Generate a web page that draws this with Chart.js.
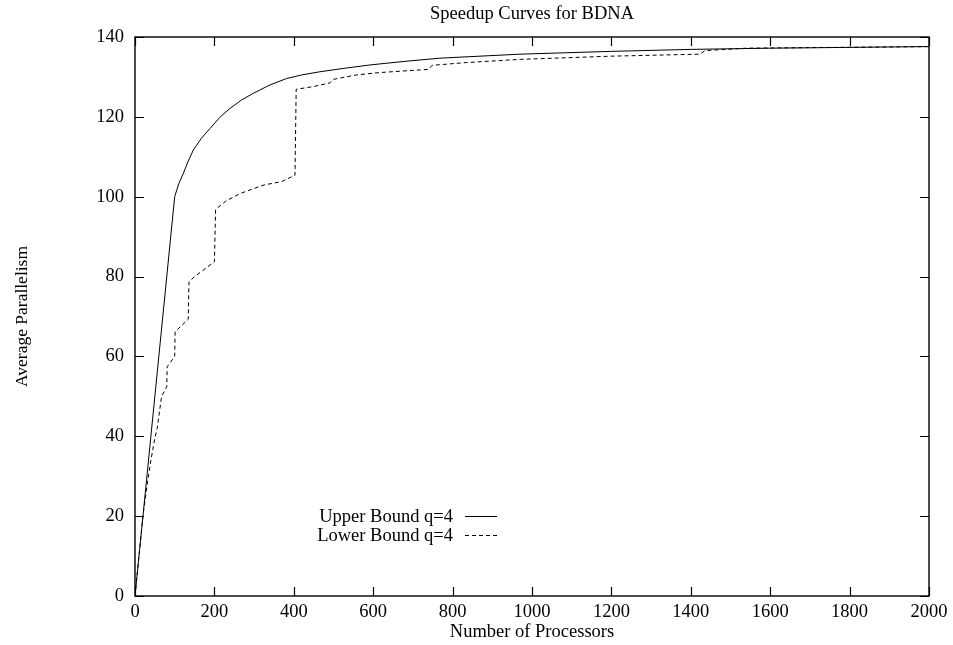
<!DOCTYPE html>
<html>
<head>
<meta charset="utf-8">
<title>Speedup Curves for BDNA</title>
<script src="https://cdn.jsdelivr.net/npm/chart.js@4/dist/chart.umd.min.js"></script>
<style>
  html, body { margin: 0; padding: 0; background: #fff; }
  #wrap { width: 953px; height: 645px; }
</style>
</head>
<body>
<div id="wrap"><canvas id="speedupChart" width="953" height="645"></canvas></div>
<script>
// upper bound speedup curve (processors, average parallelism)
const upperX = [0, 100, 110, 122, 134, 147, 167, 189, 213, 239, 268, 298, 340, 382, 420, 466, 530, 592, 680, 768, 970, 1200, 1400, 1600, 1800, 2000];
const upperY = [0, 100, 103.2, 105.9, 108.9, 111.7, 114.6, 117.1, 119.8, 122.1, 124.2, 125.9, 128.0, 129.6, 130.5, 131.3, 132.2, 133.0, 133.9, 134.7, 135.7, 136.4, 136.9, 137.2, 137.4, 137.6];

// lower bound speedup curve, stepped
const lowerX = [0, 10, 20, 30, 40, 50, 56, 60, 67, 80, 81, 100, 101, 134, 136, 150, 200, 203, 230, 265, 323, 370, 403, 406, 450, 491, 500, 558, 617, 740, 748, 835, 970, 1200, 1423, 1436, 1541, 2000];
const lowerY = [0, 10, 20, 27.5, 34, 39.5, 42, 45, 50, 52.4, 57.4, 60, 66.2, 69.3, 78.7, 80, 83.7, 96.8, 99, 100.8, 102.9, 103.8, 105.4, 126.9, 127.6, 128.5, 129.4, 130.5, 131.1, 131.9, 132.9, 133.6, 134.4, 135.2, 135.7, 136.6, 137.2, 137.6];

const seriesLabels = ["Upper Bound q=4", "Lower Bound q=4"];
const xTicks = [0, 200, 400, 600, 800, 1000, 1200, 1400, 1600, 1800, 2000];
const yTicks = [0, 20, 40, 60, 80, 100, 120, 140];

const FONT = "'Liberation Serif', 'Times New Roman', serif";
const FONT_SIZE = 18.5;

function toPoints(xs, ys) {
  return xs.map((x, i) => ({ x: x, y: ys[i] }));
}

// frame, inward ticks on all sides, title and the legend box
const gnuplotFrame = {
  id: "gnuplotFrame",
  afterDatasetsDraw(chart) {
    const ctx = chart.ctx;
    const area = chart.chartArea;
    const xs = chart.scales.x;
    const ys = chart.scales.y;
    const tick = 9;

    ctx.save();
    ctx.strokeStyle = "#000";
    ctx.lineWidth = 1.4;
    ctx.strokeRect(area.left, area.top, area.right - area.left, area.bottom - area.top);

    ctx.lineWidth = 1.2;
    ctx.beginPath();
    xTicks.forEach(v => {
      const px = Math.round(xs.getPixelForValue(v)) + 0.5;
      ctx.moveTo(px, area.bottom); ctx.lineTo(px, area.bottom - tick);
      ctx.moveTo(px, area.top); ctx.lineTo(px, area.top + tick);
    });
    yTicks.forEach(v => {
      const py = Math.round(ys.getPixelForValue(v)) + 0.5;
      ctx.moveTo(area.left, py); ctx.lineTo(area.left + tick, py);
      ctx.moveTo(area.right, py); ctx.lineTo(area.right - tick, py);
    });
    ctx.stroke();

    // title centred over the plot
    ctx.fillStyle = "#000";
    ctx.font = FONT_SIZE + "px " + FONT;
    ctx.textAlign = "center";
    ctx.textBaseline = "middle";
    ctx.fillText("Speedup Curves for BDNA", (area.left + area.right) / 2, 14);

    // legend: text on the left, line sample on the right
    const textRight = 453;
    const lineLeft = 465;
    const lineRight = 497;
    chart.data.datasets.forEach((ds, i) => {
      const y = 516 + i * 19;
      ctx.textAlign = "right";
      ctx.fillText(ds.label, textRight, y + 1);
      ctx.beginPath();
      ctx.lineWidth = 1;
      ctx.setLineDash(ds.borderDash || []);
      ctx.moveTo(lineLeft, y + 0.5);
      ctx.lineTo(lineRight, y + 0.5);
      ctx.stroke();
    });
    ctx.setLineDash([]);
    ctx.restore();
  }
};

const ctx = document.getElementById("speedupChart").getContext("2d");
new Chart(ctx, {
  type: "line",
  data: {
    datasets: [
      {
        label: seriesLabels[0],
        data: toPoints(upperX, upperY),
        borderColor: "#000",
        borderWidth: 1,
        pointRadius: 0,
        tension: 0,
        fill: false
      },
      {
        label: seriesLabels[1],
        data: toPoints(lowerX, lowerY),
        borderColor: "#000",
        borderWidth: 1,
        borderDash: [4, 3],
        pointRadius: 0,
        tension: 0,
        fill: false
      }
    ]
  },
  options: {
    responsive: false,
    animation: false,
    layout: { padding: { top: 37, right: 24, bottom: 0, left: 0 } },
    plugins: {
      legend: { display: false },
      title: { display: false },
      tooltip: { enabled: false }
    },
    scales: {
      x: {
        type: "linear",
        min: 0,
        max: 2000,
        afterBuildTicks: scale => { scale.ticks = xTicks.map(v => ({ value: v })); },
        afterFit: scale => { scale.height = 49; },
        grid: { display: false, drawTicks: false },
        border: { display: false },
        ticks: {
          color: "#000",
          font: { family: FONT, size: FONT_SIZE },
          padding: 5,
          maxRotation: 0,
          callback: v => String(v)
        },
        title: {
          display: true,
          text: "Number of Processors",
          color: "#000",
          font: { family: FONT, size: FONT_SIZE },
          padding: { top: 0, bottom: 2 }
        }
      },
      y: {
        type: "linear",
        min: 0,
        max: 140,
        afterBuildTicks: scale => { scale.ticks = yTicks.map(v => ({ value: v })); },
        afterFit: scale => { scale.width = 135; },
        grid: { display: false, drawTicks: false },
        border: { display: false },
        ticks: {
          color: "#000",
          font: { family: FONT, size: FONT_SIZE },
          padding: 11,
          callback: v => String(v)
        },
        title: {
          display: true,
          text: "Average Parallelism",
          color: "#000",
          font: { family: FONT, size: 17.5 },
          padding: { top: 12, bottom: 0 }
        }
      }
    }
  },
  plugins: [gnuplotFrame]
});
</script>
</body>
</html>
